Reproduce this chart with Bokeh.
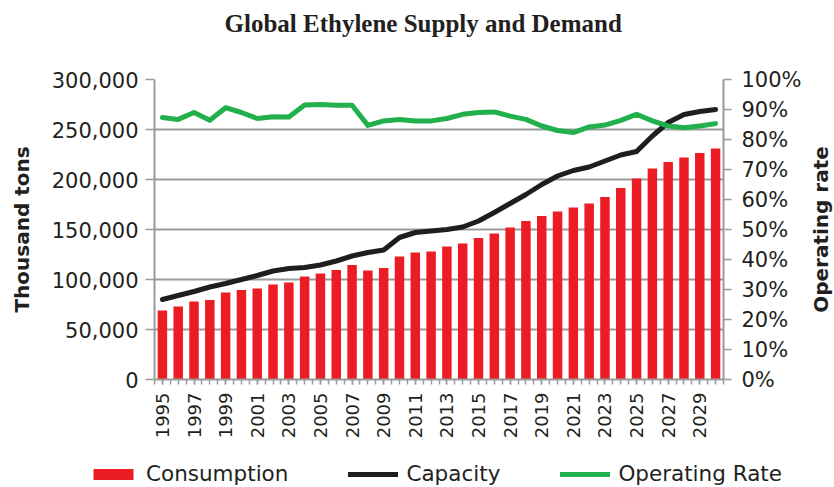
from math import pi
from bokeh.plotting import figure
from bokeh.layouts import column, row
from bokeh.models import (Range1d, LinearAxis, FixedTicker, NumeralTickFormatter,
                          Legend, LegendItem, Title)
from bokeh.embed import file_html
from bokeh.resources import INLINE

# ---------------- data ----------------
years = list(range(1995, 2031))
consumption = [69000, 73000, 78000, 79500, 87000, 89500, 91000, 95000, 97000, 103000,
               106000, 109500, 114500, 109000, 111500, 123000, 127000, 128000, 133000, 136000,
               141500, 146000, 152000, 158500, 163500, 168000, 172000, 176000, 182500, 191500,
               201000, 211000, 217500, 222000, 226500, 231000]
capacity = [80000, 84000, 88000, 92500, 96000, 100000, 104000, 108500, 111000, 112000,
            114500, 118500, 123500, 127000, 129500, 142000, 147000, 148500, 150000, 152500,
            158500, 167000, 176000, 185000, 195000, 203500, 209000, 212500, 218500, 224500,
            228000, 243500, 257000, 265000, 268000, 270000]
operating_rate = [0.873, 0.867, 0.890, 0.864, 0.906, 0.890, 0.870, 0.876, 0.875, 0.915,
                  0.917, 0.914, 0.914, 0.847, 0.862, 0.867, 0.862, 0.862, 0.870, 0.884,
                  0.890, 0.892, 0.878, 0.867, 0.845, 0.830, 0.823, 0.842, 0.848, 0.864,
                  0.884, 0.862, 0.845, 0.839, 0.845, 0.853]
label_years = years[::2]
left_ticks = [0, 50000, 100000, 150000, 200000, 250000, 300000]
right_ticks = [0.0, 0.1, 0.2, 0.3, 0.4, 0.5, 0.6, 0.7, 0.8, 0.9, 1.0]
series_names = ["Consumption", "Capacity", "Operating Rate"]

RED = "#ec1c24"
BLACK = "#1e1e1e"
GREEN = "#21b04b"
GRAY = "#9a9a9a"
TXT = "#231f20"
FONT = "DejaVu Sans"

p = figure(width=804, height=460, output_backend="svg", toolbar_location=None,
           x_range=Range1d(years[0] - 0.5, years[-1] + 0.5),
           y_range=Range1d(left_ticks[0], left_ticks[-1]),
           min_border_left=154, min_border_right=0, min_border_top=79,
           min_border_bottom=81)
p.extra_y_ranges = {"pct": Range1d(right_ticks[0], right_ticks[-1])}
p.outline_line_color = None
p.background_fill_color = "white"
p.border_fill_color = "white"
p.title = None
# spacer between title and plot area, then the title itself
p.add_layout(Title(text=" ", text_font_size="10px", standoff=30), "above")
p.add_layout(Title(text="Global Ethylene Supply and Demand", align="left",
                   text_font="Liberation Serif", text_font_size="25px",
                   text_font_style="bold", text_color=TXT, standoff=0, offset=70),
             "above")

# bars and lines
bars = p.vbar(x=years, top=consumption, width=0.6, fill_color=RED, line_color=None)
cap = p.line(years, capacity, line_width=5, line_color=BLACK,
             line_join="round", line_cap="round")
opr = p.line(years, operating_rate, line_width=5, line_color=GREEN,
             line_join="round", line_cap="round", y_range_name="pct")

# x axis
xa = p.xaxis[0]
xa.ticker = FixedTicker(ticks=label_years,
                        minor_ticks=[y - 0.5 for y in years] + years + [years[-1] + 0.5])
xa.major_label_orientation = pi / 2
xa.major_label_text_font = FONT
xa.major_label_text_font_size = "18px"
xa.major_label_text_color = TXT
xa.major_label_standoff = 8
xa.axis_line_color = GRAY
xa.axis_line_width = 2
xa.major_tick_line_color = GRAY
xa.minor_tick_line_color = GRAY
xa.major_tick_line_width = 1.5
xa.minor_tick_line_width = 1.5
xa.major_tick_in = 0
xa.minor_tick_in = 0
xa.major_tick_out = 5
xa.minor_tick_out = 5
p.xgrid.visible = False

# left axis
ya = p.yaxis[0]
ya.ticker = FixedTicker(ticks=left_ticks)
ya.formatter = NumeralTickFormatter(format="0,0")
ya.axis_label = "Thousand tons"
ya.axis_label_text_font = FONT
ya.axis_label_text_font_style = "bold"
ya.axis_label_text_font_size = "20px"
ya.axis_label_text_color = TXT
ya.axis_label_standoff = 15
ya.major_label_text_font = FONT
ya.major_label_text_font_size = "21px"
ya.major_label_text_color = TXT
ya.major_label_standoff = 7
ya.axis_line_color = GRAY
ya.axis_line_width = 2
ya.major_tick_line_color = GRAY
ya.major_tick_line_width = 1.5
ya.major_tick_in = 0
ya.major_tick_out = 9
ya.minor_tick_line_color = None
p.ygrid.grid_line_color = GRAY
p.ygrid.grid_line_width = 2

# right axis (ticks and labels)
ra = LinearAxis(y_range_name="pct", ticker=FixedTicker(ticks=right_ticks),
                formatter=NumeralTickFormatter(format="0%"))
ra.major_label_text_font = FONT
ra.major_label_text_font_size = "21px"
ra.major_label_text_color = TXT
ra.major_label_standoff = 10
ra.axis_line_color = GRAY
ra.axis_line_width = 2
ra.major_tick_line_color = GRAY
ra.major_tick_line_width = 1.5
ra.major_tick_in = 0
ra.major_tick_out = 8
ra.minor_tick_line_color = None
p.add_layout(ra, "right")

# narrow strip to the right carrying the right axis title (reads bottom-to-top)
rf = figure(width=30, height=460, output_backend="svg", toolbar_location=None,
            x_axis_location=None, y_axis_location=None,
            min_border_left=0, min_border_right=0, min_border_top=79,
            min_border_bottom=81, x_range=Range1d(0, 1), y_range=Range1d(0, 1))
rf.grid.visible = False
rf.outline_line_color = None
rf.title = None
rf.add_layout(Title(text="Operating rate", align="center", text_font=FONT,
                    text_font_size="20px", text_font_style="bold", text_color=TXT,
                    standoff=4), "left")

# legend strip under the chart; its renderers reuse the series data but lie
# outside the strip's visible ranges, so only the legend itself shows
lg = figure(width=834, height=27, output_backend="svg", toolbar_location=None,
            x_axis_location=None, y_axis_location=None, min_border=0,
            x_range=Range1d(0, 1), y_range=Range1d(0, 1))
for fig in (p, rf, lg):
    try:
        fig.frame_align = False
    except Exception:
        pass
lg.grid.visible = False
lg.outline_line_color = None
lbar = lg.vbar(x=years, top=consumption, width=0.6, fill_color=RED, line_color=None)
lcap = lg.line(x=years, y=capacity, line_width=5, line_color=BLACK, line_cap="round")
lopr = lg.line(x=years, y=operating_rate, line_width=5, line_color=GREEN, line_cap="round")
legend = Legend(items=[LegendItem(label=series_names[0], renderers=[lbar]),
                       LegendItem(label=series_names[1], renderers=[lcap]),
                       LegendItem(label=series_names[2], renderers=[lopr])],
                orientation="horizontal", location=(88, 1), padding=0, margin=0,
                spacing=60, glyph_width=50, glyph_height=14, label_standoff=8,
                label_text_font=FONT, label_text_font_size="21.5px", label_text_color=TXT,
                border_line_color=None, background_fill_alpha=0)
lg.add_layout(legend)

open("out.html", "w").write(file_html(column(row(p, rf), lg), INLINE))
